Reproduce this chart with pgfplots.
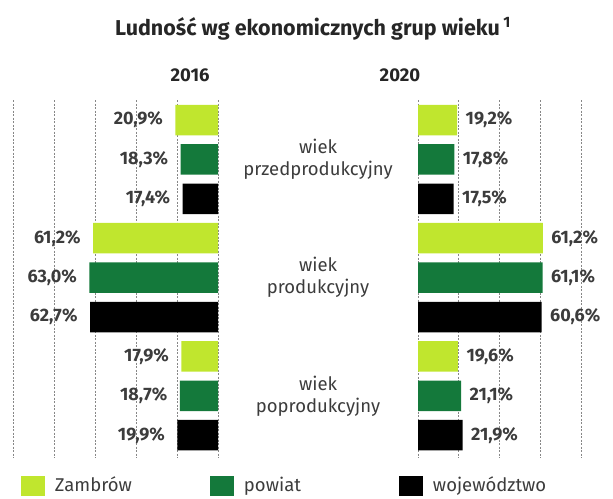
\documentclass[border=0pt]{standalone}
\usepackage{fontspec}
\setmainfont{Fira Sans}
\usepackage{pgfplots}
\pgfplotsset{compat=1.18}

\definecolor{zambrow}{RGB}{192,230,46}
\definecolor{powiat}{RGB}{20,121,59}
\definecolor{woj}{RGB}{0,0,0}
\definecolor{txt}{RGB}{60,60,60}
\definecolor{gridc}{RGB}{135,135,135}

\newcommand\valfont{\fontsize{18}{21}\selectfont\bfseries}
\newcommand\bodyfont{\fontsize{18.5}{22}\selectfont}

\pgfplotsset{
  panel/.style={
    scale only axis, height=358pt,
    ymin=-0.51, ymax=8.58, y dir=reverse,
    axis line style={draw=none},
    xtick={0,20,...,100}, ytick=\empty,
    xticklabels={}, major tick length=0pt,
    xmajorgrids,
    major grid style={gridc, line width=1pt, dash pattern=on 2pt off 1.5pt},
    clip=false,
    point meta=x,
    /pgf/number format/assume math mode=true,
    nodes near coords={\pgfmathprintnumber[fixed,fixed zerofill,precision=1,use comma]{\pgfplotspointmeta}\%},
  },
  bars/.style={xbar, bar width=30.5pt, bar shift=0pt, draw=none, fill=#1},
}

\begin{document}
\begin{tikzpicture}
\useasboundingbox (0pt,0pt) rectangle (613pt,-498pt);

% 2016: bars grow to the left
\begin{axis}[panel,
  at={(0pt,-100pt)}, anchor=north west, width=218pt,
  xmin=0, xmax=106.86, x dir=reverse,
  every node near coord/.append style={font=\valfont, text=txt, anchor=east, xshift=-9pt},
  legend columns=3,
  legend style={at={(axis description cs:0.0963,-0.0475)}, anchor=north west,
    draw=none, fill=none, inner sep=0pt, outer sep=0pt,
    font=\bodyfont, text=txt,
    /tikz/every odd column/.append style={column sep=8pt}},
  legend image code/.code={\fill[#1] (0pt,-11pt) rectangle (24pt,9pt);},
]
\addplot[bars=zambrow] coordinates {(20.9,0) (61.2,3) (17.9,6)};
\addlegendentry{\makebox[153pt][l]{Zambrów}}
\addplot[bars=powiat] coordinates {(18.3,1) (63.0,4) (18.7,7)};
\addlegendentry{\makebox[153pt][l]{powiat}}
\addplot[bars=woj] coordinates {(17.4,2) (62.7,5) (19.9,8)};
\addlegendentry{\makebox[153pt][l]{województwo}}
\end{axis}

% 2020: bars grow to the right
\begin{axis}[panel,
  at={(418pt,-100pt)}, anchor=north west, width=195pt,
  xmin=0, xmax=95.59,
  every node near coord/.append style={font=\valfont, text=txt, anchor=west, xshift=5pt},
]
\addplot[bars=zambrow] coordinates {(19.2,0) (61.2,3) (19.6,6)};
\addplot[bars=powiat] coordinates {(17.8,1) (61.1,4) (21.1,7)};
\addplot[bars=woj] coordinates {(17.5,2) (60.6,5) (21.9,8)};
\node[align=center, font=\bodyfont, text=txt] at (axis cs:-49,1) {wiek\\przedprodukcyjny};
\node[align=center, font=\bodyfont, text=txt] at (axis cs:-49,4) {wiek\\produkcyjny};
\node[align=center, font=\bodyfont, text=txt] at (axis cs:-49,7) {wiek\\poprodukcyjny};
\end{axis}

\node[anchor=base, font=\fontsize{21.5}{24}\selectfont\bfseries, text=black!85] at (313pt,-35pt)
  {Ludność wg ekonomicznych grup wieku\,\textsuperscript{1}};
\node[anchor=base, font=\fontsize{18.5}{22}\selectfont\bfseries, text=black!85] at (190pt,-81pt) {2016};
\node[anchor=base, font=\fontsize{18.5}{22}\selectfont\bfseries, text=black!85] at (400pt,-81pt) {2020};
\end{tikzpicture}
\end{document}
